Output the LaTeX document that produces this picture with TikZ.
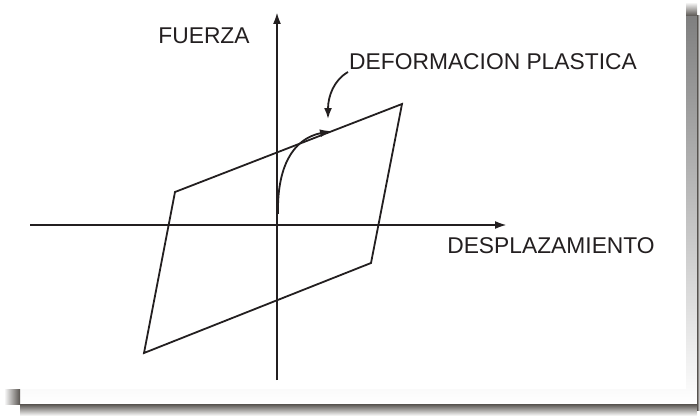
\documentclass[tikz,border=0pt]{standalone}
\usepackage{fontspec}
\setmainfont{Liberation Sans}
\usetikzlibrary{arrows.meta}
\definecolor{ink}{HTML}{231F20}
\definecolor{shade}{HTML}{57534F}
\tikzset{
  axisline/.style={draw=ink, line width=2.2pt, -{Latex[length=12pt,width=8pt]}},
  loopline/.style={draw=ink, line width=1.8pt, line join=miter},
  pointer/.style={draw=ink, line width=1.8pt, -{Latex[length=11pt,width=8pt]}},
  lbl/.style={font=\fontsize{22.8}{26}\selectfont, text=ink, inner sep=0pt}
}
\begin{document}
\begin{tikzpicture}[x=1pt,y=-1pt]
\useasboundingbox (0,0) rectangle (700,417);
\fill[white] (0,0) rectangle (700,417);
% drop shadow
\fill[shade] (20,16) rectangle (697,404);
\shade[top color=shade, bottom color=white] (20,404) rectangle (697,416);
\shade[left color=white, right color=shade] (4,389) rectangle (20,404);
\shade[top color=white, bottom color=shade] (686,2) rectangle (697,16);
\shade[left color=shade, right color=white] (697,16) rectangle (700,410);
\fill[white] (0,0) rectangle (686,389);
% coordinates
\coordinate (xl) at (30,225);
\coordinate (xr) at (507,225);
\coordinate (yb) at (277,380);
\coordinate (yt) at (277,12);
\coordinate (pa) at (175,192);
\coordinate (pb) at (402,104);
\coordinate (pc) at (371,263);
\coordinate (pd) at (144,353);
\coordinate (cs) at (278,214);
\coordinate (ce) at (331,131);
\coordinate (ls) at (348,72);
\coordinate (le) at (328,119);
% axes
\draw[axisline] (xl) -- (xr);
\draw[axisline] (yb) -- (yt);
% hysteresis loop
\draw[loopline] (pa) -- (pb) -- (pc) -- (pd) -- cycle;
% plastic deformation curve
\draw[pointer] (cs) .. controls (277,168) and (292,139) .. (ce);
% label pointer
\draw[pointer] (ls) .. controls (334,80) and (328,96) .. (le);
% labels
\node[lbl] (fuerza) at (204,36) {FUERZA};
\node[lbl] (deform) at (493,62) {DEFORMACION PLASTICA};
\node[lbl] (despl) at (551,246) {DESPLAZAMIENTO};
\end{tikzpicture}
\end{document}
